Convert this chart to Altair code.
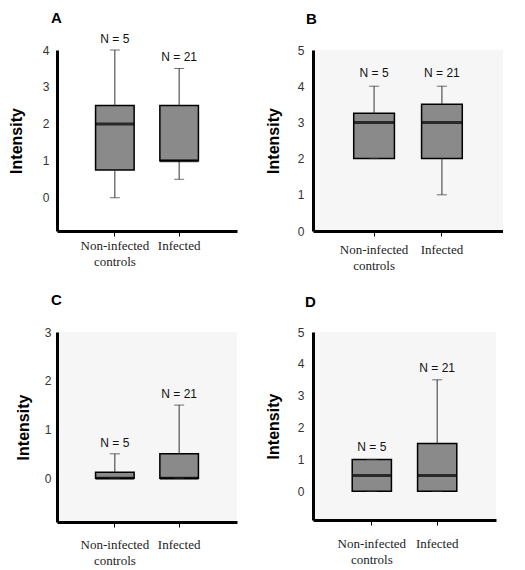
import altair as alt
import pandas as pd

# ---- data ----
panels = ["A", "B", "C", "D"]
groups = ["Non-infected controls", "Infected"]
n_labels = ["N = 5", "N = 21"]

whisker_low = {"A": [0.0, 0.5], "B": [2.0, 1.0], "C": [0.0, 0.0], "D": [0.0, 0.0]}
q1 = {"A": [0.75, 1.0], "B": [2.0, 2.0], "C": [0.0, 0.0], "D": [0.0, 0.0]}
median = {"A": [2.0, 1.0], "B": [3.0, 3.0], "C": [0.0, 0.0], "D": [0.5, 0.5]}
q3 = {"A": [2.5, 2.5], "B": [3.25, 3.5], "C": [0.12, 0.5], "D": [1.0, 1.5]}
whisker_high = {"A": [4.0, 3.5], "B": [4.0, 4.0], "C": [0.5, 1.5], "D": [1.0, 3.5]}

y_domain = {"A": [-0.9, 4], "B": [0, 5], "C": [-0.9, 3], "D": [-0.9, 5]}
y_ticks = {"A": [0, 1, 2, 3, 4], "B": [0, 1, 2, 3, 4, 5], "C": [0, 1, 2, 3], "D": [0, 1, 2, 3, 4, 5]}

# ---- layout / style per panel ----
sizes = {"A": (180, 181), "B": (190, 181), "C": (180, 190), "D": (183, 188)}
backgrounds = {"A": "white", "B": "#f6f6f6", "C": "#f6f6f6", "D": "#f6f6f6"}
title_offset = {"A": 7, "B": 17, "C": 18, "D": 16}
title_dx = {"A": -6, "B": -7, "C": -6, "D": -8}
x_label_pad = {"A": 3, "B": 7, "C": 11, "D": 12}
y_label_pad = {"A": 8, "B": 9, "C": 6, "D": 9}
y_title_pad = {"A": 17, "B": 16, "C": 10, "D": 16}
n_dy = {"A": -4, "B": -6, "C": -4, "D": -5}

SANS = "Liberation Sans"
SERIF = "Liberation Serif, DejaVu Serif, Times New Roman, serif"


def panel(p):
    w, h = sizes[p]
    df = pd.DataFrame({
        "group": groups,
        "low": whisker_low[p],
        "q1": q1[p],
        "median": median[p],
        "q3": q3[p],
        "high": whisker_high[p],
        "n": n_labels,
    })
    xscale = alt.Scale(domain=groups, paddingInner=0.4, paddingOuter=0.6)
    xaxis = alt.Axis(
        labelAngle=0, labelFont=SERIF, labelFontSize=13, labelColor="#222",
        labelExpr="datum.value == 'Non-infected controls' ? ['Non-infected', 'controls'] : datum.value",
        labelLineHeight=16, labelPadding=x_label_pad[p], labelBaseline="top",
        domainColor="black", domainWidth=3, ticks=True, tickSize=5,
        tickColor="black", tickWidth=1, grid=False,
    )
    x = alt.X("group:N", scale=xscale, title=None, axis=xaxis)
    yscale = alt.Scale(domain=y_domain[p], nice=False, zero=False)
    yaxis = alt.Axis(
        values=y_ticks[p], tickCount=len(y_ticks[p]), ticks=False, grid=False,
        domainColor="black", domainWidth=3,
        labelFont=SANS, labelFontSize=12, labelColor="#333", labelPadding=y_label_pad[p],
        labelOverlap=False, labelFlush=False, labelBound=False,
        title="Intensity", titleFont=SANS, titleFontSize=16, titleFontWeight="bold",
        titleColor="black", titlePadding=y_title_pad[p], minExtent=16, maxExtent=16,
    )

    def Y(field):
        return alt.Y(field, scale=yscale, axis=yaxis, title="Intensity")

    base = alt.Chart(df)
    bw = w * 0.6 / 2.8

    box = base.mark_rect(fill="#8a8a8a", stroke="black", strokeWidth=1.5).encode(
        x=x, y=Y("q1:Q"), y2="q3:Q")
    upper = base.mark_rule(color="#333", strokeWidth=1).encode(
        x=x, y=Y("q3:Q"), y2="high:Q")
    lower = base.mark_rule(color="#333", strokeWidth=1).encode(
        x=x, y=Y("low:Q"), y2="q1:Q")
    cap_hi = base.mark_tick(color="#333", size=10, thickness=1).encode(
        x=x, y=Y("high:Q"))
    cap_lo = base.mark_tick(color="#333", size=10, thickness=1).encode(
        x=x, y=Y("low:Q"))
    med = base.mark_tick(color="black", size=bw, thickness=3).encode(
        x=x, y=Y("median:Q"))
    txt = base.mark_text(font=SANS, fontSize=12, color="#111", baseline="bottom",
                         dy=n_dy[p]).encode(
        x=x, y=Y("high:Q"), text="n:N")

    return alt.layer(box, lower, upper, med, cap_hi, cap_lo, txt).properties(
        width=w, height=h,
        title=alt.TitleParams(text=p, anchor="start", frame="group", font=SANS,
                              fontSize=15, fontWeight="bold", color="black",
                              offset=title_offset[p], dx=title_dx[p]),
        view=alt.ViewBackground(fill=backgrounds[p], stroke=None),
    )


row1 = alt.hconcat(panel("A"), panel("B"), spacing=28)
row2 = alt.hconcat(panel("C"), panel("D"), spacing=28)
chart = alt.vconcat(row1, row2, spacing=21).properties(
    padding={"left": 0, "top": 3, "right": 0, "bottom": 0}
).configure(background="white")

chart.save("out.html", embed_options={"renderer": "svg", "actions": False})
